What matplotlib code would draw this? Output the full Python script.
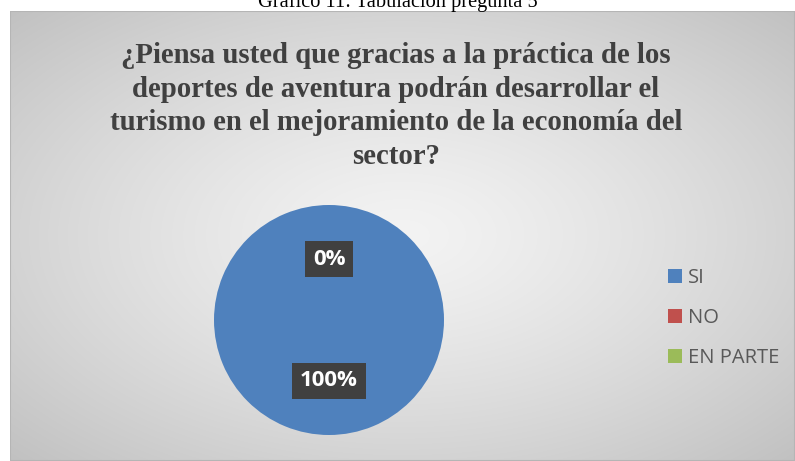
import numpy as np
import matplotlib.pyplot as plt
from matplotlib.patches import Patch, Rectangle

# datos de la encuesta
categorias = ["SI", "NO", "EN PARTE"]
valores = [100, 0, 0]
colores = ["#4F81BD", "#C0504D", "#9BBB59"]

titulo = ("¿Piensa usted que gracias a la práctica de los\n"
          "deportes de aventura podrán desarrollar el\n"
          "turismo en el mejoramiento de la economía del\n"
          "sector?")
leyenda_pie = "Gráfico 11: Tabulación pregunta 5"

W, H = 795, 461
fig = plt.figure(figsize=(W / 100, H / 100), dpi=100)
fig.patch.set_facecolor("white")

# fondo del grafico con degradado radial (estilo Excel)
x0 = 10 / W
bg = fig.add_axes([x0, 0.0, 1 - x0, 1 - 11 / H])
bg.set_axis_off()
yy, xx = np.mgrid[-1:1:200j, -1:1:300j]
r = np.clip(np.sqrt(xx ** 2 + yy ** 2) / np.sqrt(2), 0, 1)
gris = (243 - 50 * r ** 1.3) / 255
bg.imshow(np.dstack([gris, gris, gris]), aspect="auto",
          extent=[0, 1, 0, 1], interpolation="bilinear")
bg.add_patch(Rectangle((0, 0), 1, 1, fill=False, edgecolor="#b5b5b5",
                       linewidth=1.5, transform=bg.transAxes))
bg.set_xlim(0, 1)
bg.set_ylim(0, 1)

# pastel
cx, cy, rad = 329, 320, 115
ax = fig.add_axes([(cx - rad) / W, 1 - (cy + rad) / H, 2 * rad / W, 2 * rad / H])
ax.pie(valores, colors=colores, startangle=90, counterclock=False,
       autopct="%1.0f%%", pctdistance=0.53,
       wedgeprops=dict(edgecolor="none", linewidth=0),
       textprops=dict(color="white", fontsize=16, fontweight="bold",
                      family="Open Sans",
                      bbox=dict(boxstyle="square,pad=0.35", facecolor="#404040",
                                edgecolor="none")))
ax.set_xlim(-1.0, 1.0)
ax.set_ylim(-1.0, 1.0)
ax.set_aspect("equal")

# titulo
fig.text(0.498, 1 - 42 / H, titulo, ha="center", va="top", family="Liberation Serif",
         fontweight="bold", fontsize=20.7, color="#404040", linespacing=1.31)

# texto del documento (cortado arriba)
fig.text(0.5, 1 - 7 / H, leyenda_pie, ha="center", va="baseline",
         family="Liberation Serif", fontsize=14.7, color="black")

# leyenda
handles = [Patch(facecolor=c, edgecolor="none") for c in colores]
fig.legend(handles, categorias, loc="center left", bbox_to_anchor=(650 / W, 1 - 318 / H),
           frameon=False, prop=dict(family="Open Sans", size=14.5),
           labelcolor="#595959", handlelength=0.7, handleheight=0.7,
           handletextpad=0.3, labelspacing=1.0)

fig.savefig("out.png", dpi=100)
